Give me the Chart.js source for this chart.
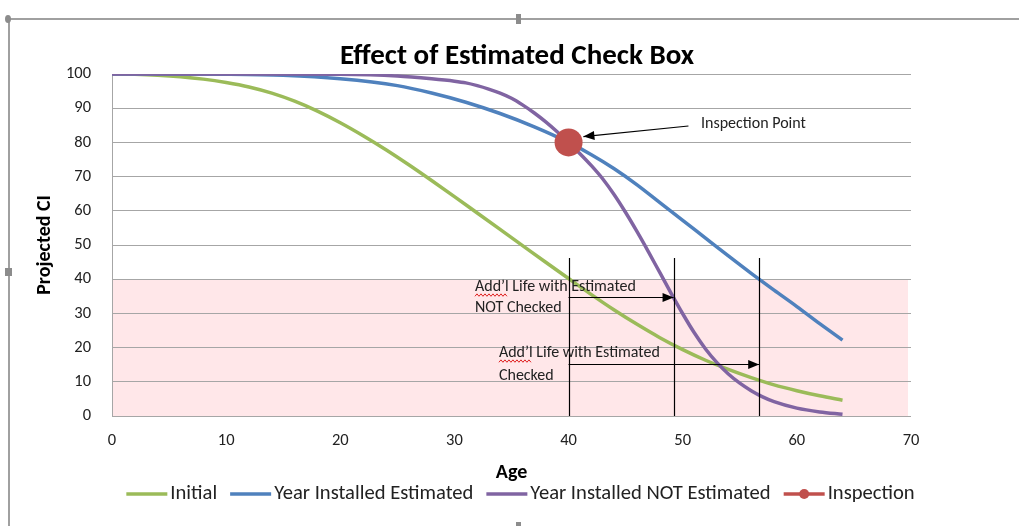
<!DOCTYPE html>
<html><head><meta charset="utf-8">
<script src="https://cdn.jsdelivr.net/npm/chart.js@4/dist/chart.umd.min.js"></script>
<style>html,body{margin:0;padding:0;background:#fff;}#wrap{position:relative;width:1019px;height:526px;}</style>
</head><body><div id="wrap"><canvas id="c" width="1019" height="526"></canvas></div>
<script>
// ---- data ----
const initialAges = [0,2,4,6,8,10,12,14,16,18,20,22,24,26,28,30,32,34,36,38,40,42,44,46,48,50,52,54,56,58,60,62,64];
const initialCI   = [100,99.9,99.65,99.2,98.5,97.5,96.2,94.4,92.05,89.15,85.75,81.95,77.85,73.45,68.85,64.15,59.35,54.55,49.75,44.95,40.2,35.5,31,26.8,22.9,19.4,16.3,13.6,11.2,9.1,7.4,5.9,4.6];
const estAges = [0,10,15,20,25,28,31,34,37,40,42,44,46,48,50,52,54,56,58,60,62,64];
const estCI   = [100,99.9,99.6,98.6,96.6,94.45,91.75,88.45,84.55,80,76.4,72.3,67.6,62.4,57.2,52,46.8,41.7,36.8,32,27,22.2];
const notEstAges = [0,10,20,25,28,30,31,32,33,34,35,36,37,38,39,40,41,42,43,44,45,46,47,48,49,50,51,52,53,54,55,56,57,58,60,62,64];
const notEstCI   = [100,100,99.9,99.4,98.6,97.9,97.4,96.6,95.6,94.4,92.9,90.9,88.6,86,83.1,80,76.7,73.2,69.3,64.7,59.5,53.9,48,41.9,35.8,29.9,24.4,19.6,15.6,12.3,9.6,7.4,5.6,4.2,2.3,1.2,0.5];
const inspectionAge = [40];
const inspectionCI = [80];
const xTicks = [0,10,20,30,40,50,60,70];
const yTicks = [0,10,20,30,40,50,60,70,80,90,100];
const zoneCI = [0,40];
const markerAges = [40,49.2,56.7];
const markerTopCI = 46.2;
const arrowSpecs = [[40,49.2,34.8],[40,56.7,15.2]];
const labelTexts = [["Add\u2019l Life with Estimated","NOT Checked"],["Add\u2019l Life with Estimated","Checked"]];
const labelPos = [[31.8,37.7,31.6],[33.9,18.4,11.7]];
const inspLabel = "Inspection Point";
const inspLabelPos = [51.6,85.4];
const inspArrow = [50.5,84.8,41.3,81.7];
const chartTitle = "Effect of Estimated Check Box";
const seriesNames = ["Initial","Year Installed Estimated","Year Installed NOT Estimated","Inspection"];
const colors = ["#9BBB59","#4F81BD","#8064A2","#C0504D"];

const FONT = "Carlito, Lato, 'Open Sans', sans-serif";
const pts = (xs, ys) => xs.map((x,i)=>({x, y: ys[i]}));

const decor = {
  id:'decor',
  beforeDraw(chart){
    const {ctx, scales:{x,y}} = chart;
    ctx.save();
    ctx.fillStyle = '#FFE7E9';
    const x0 = x.getPixelForValue(0), x1 = x.getPixelForValue(70) - 3;
    const y0 = y.getPixelForValue(zoneCI[0]), y1 = y.getPixelForValue(zoneCI[1]);
    ctx.fillRect(x0, y1, x1-x0, y0-y1);
    // excel frame
    ctx.strokeStyle = '#A0A0A0'; ctx.lineWidth = 2;
    ctx.beginPath(); ctx.moveTo(9,19); ctx.lineTo(1019,19); ctx.moveTo(9,19); ctx.lineTo(9,526); ctx.stroke();
    ctx.fillStyle = '#8C8C8C';
    ctx.beginPath(); ctx.ellipse(8,19,3,4,0,0,Math.PI*2); ctx.fill();
    ctx.fillRect(516,14,5,10);
    ctx.fillRect(5,268,7,8);
    ctx.fillRect(516,522,5,4);
    // title
    ctx.fillStyle = '#000'; ctx.font = 'bold 29px ' + FONT;
    ctx.textAlign = 'center'; ctx.textBaseline = 'middle';
    ctx.fillText(chartTitle, 517, 57);
    ctx.restore();
  },
  afterDraw(chart){
    const {ctx, scales:{x,y}} = chart;
    ctx.save();
    ctx.strokeStyle = '#000'; ctx.fillStyle = '#000'; ctx.lineWidth = 1.2;
    markerAges.forEach(a=>{
      const px = Math.round(x.getPixelForValue(a))+0.5;
      ctx.beginPath(); ctx.moveTo(px, y.getPixelForValue(markerTopCI)); ctx.lineTo(px, y.getPixelForValue(0)); ctx.stroke();
    });
    const arrow = (xa,ya,xb,yb)=>{
      ctx.beginPath(); ctx.moveTo(xa,ya); ctx.lineTo(xb,yb); ctx.stroke();
      const ang = Math.atan2(yb-ya, xb-xa), L=11, W=4.5;
      ctx.beginPath(); ctx.moveTo(xb,yb);
      ctx.lineTo(xb - L*Math.cos(ang) + W*Math.sin(ang), yb - L*Math.sin(ang) - W*Math.cos(ang));
      ctx.lineTo(xb - L*Math.cos(ang) - W*Math.sin(ang), yb - L*Math.sin(ang) + W*Math.cos(ang));
      ctx.closePath(); ctx.fill();
    };
    arrowSpecs.forEach(([a,b,v])=>{
      const py = Math.round(y.getPixelForValue(v))+0.5;
      arrow(x.getPixelForValue(a), py, x.getPixelForValue(b), py);
    });
    arrow(x.getPixelForValue(inspArrow[0]), y.getPixelForValue(inspArrow[1]), x.getPixelForValue(inspArrow[2]), y.getPixelForValue(inspArrow[3]));
    ctx.font = '16px ' + FONT; ctx.textBaseline = 'middle'; ctx.textAlign = 'left';
    ctx.fillStyle = '#222';
    labelTexts.forEach((lines,i)=>{
      const [a,v1,v2] = labelPos[i];
      const px = x.getPixelForValue(a);
      const p1 = y.getPixelForValue(v1), p2 = y.getPixelForValue(v2);
      ctx.fillText(lines[0], px, p1);
      ctx.fillText(lines[1], px, p2);
      const w = ctx.measureText("Add\u2019l").width;
      ctx.save(); ctx.strokeStyle = '#E02020'; ctx.lineWidth = 1;
      ctx.beginPath();
      const by = p1 + 8;
      for (let k=0; k<=w; k+=2) { const yy = by + ((k/2)%2 ? -1.2 : 1.2); k===0 ? ctx.moveTo(px+k,yy) : ctx.lineTo(px+k,yy); }
      ctx.stroke(); ctx.restore();
    });
    ctx.fillText(inspLabel, x.getPixelForValue(inspLabelPos[0]), y.getPixelForValue(inspLabelPos[1]));
    // legend
    ctx.font = '20.6px ' + FONT;
    const lineW = 41, gap = 3, itemGap = 13;
    const widths = seriesNames.map(s=>ctx.measureText(s).width);
    const total = widths.reduce((s,w)=>s+lineW+gap+w,0) + itemGap*(seriesNames.length-1);
    let lx = 520.5 - total/2; const ly = 494;
    seriesNames.forEach((s,i)=>{
      ctx.strokeStyle = colors[i]; ctx.lineWidth = 3.5;
      ctx.beginPath(); ctx.moveTo(lx, ly); ctx.lineTo(lx+lineW, ly); ctx.stroke();
      if (i===3) { ctx.fillStyle = colors[i]; ctx.beginPath(); ctx.arc(lx+lineW/2, ly, 5, 0, Math.PI*2); ctx.fill(); }
      ctx.fillStyle = '#222';
      ctx.fillText(s, lx+lineW+gap, ly);
      lx += lineW + gap + widths[i] + itemGap;
    });
    ctx.restore();
  }
};

new Chart(document.getElementById('c'), {
  type: 'line',
  data: {
    datasets: [
      {label: seriesNames[0], data: pts(initialAges, initialCI), borderColor: colors[0], borderWidth: 3.5, pointRadius: 0, cubicInterpolationMode: 'monotone', order: 3},
      {label: seriesNames[1], data: pts(estAges, estCI), borderColor: colors[1], borderWidth: 3.5, pointRadius: 0, cubicInterpolationMode: 'monotone', order: 2},
      {label: seriesNames[2], data: pts(notEstAges, notEstCI), borderColor: colors[2], borderWidth: 3.5, pointRadius: 0, cubicInterpolationMode: 'monotone', order: 1},
      {label: seriesNames[3], data: pts(inspectionAge, inspectionCI), borderColor: colors[3], backgroundColor: colors[3], showLine: false, pointRadius: 14, pointBorderWidth: 0, order: 0}
    ]
  },
  options: {
    responsive: false, animation: false,
    layout: {padding: {left: 20, right: 108, top: 74, bottom: 40}},
    plugins: {legend: {display: false}, tooltip: {enabled: false}, title: {display: false}},
    scales: {
      x: {type: 'linear', min: 0, max: 70,
        afterBuildTicks: s => { s.ticks = xTicks.map(v=>({value: v})); },
        afterFit: s => { s.height = 70; },
        grid: {display: false, drawTicks: false}, border: {display: false},
        ticks: {padding: 15, color: '#222', font: {family: FONT, size: 16.5}},
        title: {display: true, text: 'Age', color: '#000', font: {family: FONT, size: 20, weight: 'bold'}, padding: {top: 0, bottom: 1}}
      },
      y: {min: 0, max: 100,
        afterBuildTicks: s => { s.ticks = yTicks.map(v=>({value: v})); },
        afterFit: s => { s.width = 92; },
        grid: {color: '#A6A6A6', lineWidth: 1, drawTicks: false}, border: {display: true, color: '#A6A6A6', width: 1},
        ticks: {padding: 21, color: '#222', font: {family: FONT, size: 16.5}},
        title: {display: true, text: 'Projected CI', color: '#000', font: {family: FONT, size: 20, weight: 'bold'}, padding: {top: 13, bottom: 0}}
      }
    }
  },
  plugins: [decor]
});
</script></body></html>
